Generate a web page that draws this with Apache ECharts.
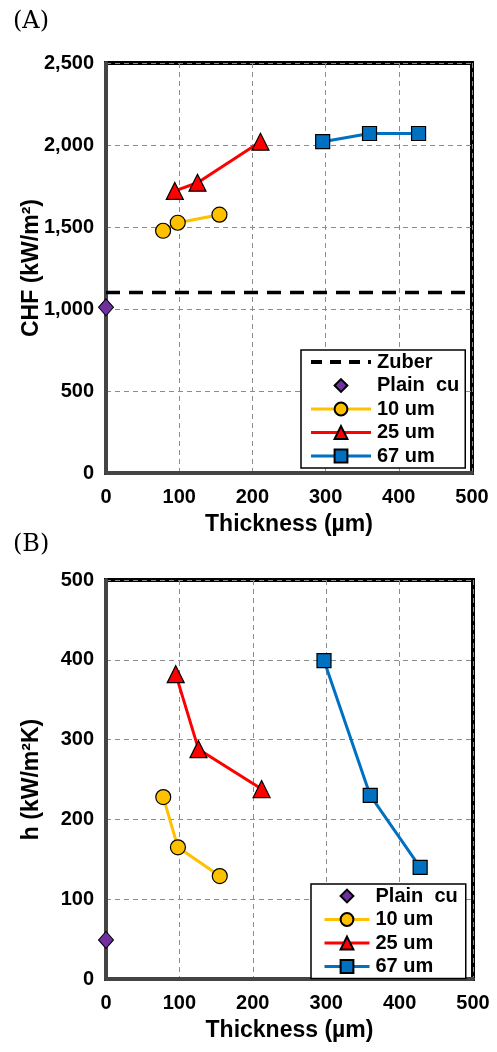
<!DOCTYPE html>
<html>
<head>
<meta charset="utf-8">
<script src="https://cdn.jsdelivr.net/npm/echarts@6/dist/echarts.min.js"></script>
<style>
html, body { margin: 0; padding: 0; background: #fff; }
#main { width: 497px; height: 1052px; }
</style>
</head>
<body>
<div id="main"></div>
<script>
// (A) CHF vs thickness
var chfPlain = [[0, 1010]];
var chf10 = [[78, 1477], [98, 1526], [155, 1575]];
var chf25 = [[94, 1720], [125, 1770], [211, 2020]];
var chf67 = [[296, 2020], [360, 2070], [427, 2070]];
var zuber = [[0, 1100], [500, 1100]];
// (B) h vs thickness
var hPlain = [[0, 49]];
var h10 = [[78, 228], [98, 165], [155, 129]];
var h25 = [[95, 382], [126, 288], [212, 238]];
var h67 = [[297, 399], [360, 230], [428, 140]];

var xTicks = [0, 100, 200, 300, 400, 500];

var FONT = 'Liberation Sans, Arial, sans-serif';

var myChart = echarts.init(document.getElementById('main'));

function xAxisCfg(idx) {
	return {
		gridIndex: idx,
		type: 'value',
		min: xTicks[0],
		max: xTicks[xTicks.length - 1],
		interval: 100,
		name: 'Thickness (µm)',
		nameLocation: 'middle',
		nameGap: 40,
		nameMoveOverlap: false,
		nameTextStyle: { fontFamily: FONT, fontWeight: 'bold', fontSize: 23, color: '#000' },
		axisLine: { onZero: false, lineStyle: { color: '#444', width: 4 } },
		axisTick: { show: false },
		axisLabel: { margin: 14, fontFamily: FONT, fontWeight: 'bold', fontSize: 20, color: '#000' },
		splitLine: { show: true, lineStyle: { color: '#8c8c8c', type: [5, 4], width: 1 } }
	};
}

function yAxisCfg(idx, name, max, interval) {
	return {
		gridIndex: idx,
		type: 'value',
		min: 0,
		max: max,
		interval: interval,
		name: name,
		nameLocation: 'middle',
		nameGap: 63,
		nameMoveOverlap: false,
		nameTextStyle: { fontFamily: FONT, fontWeight: 'bold', fontSize: 23, color: '#000' },
		axisLine: { onZero: false, lineStyle: { color: '#444', width: 4 } },
		axisTick: { show: false },
		axisLabel: {
			margin: 12, fontFamily: FONT, fontWeight: 'bold', fontSize: 20, color: '#000',
			formatter: function(v) { return v.toLocaleString('en-US'); }
		},
		splitLine: { show: true, lineStyle: { color: '#8c8c8c', type: [5, 4], width: 1 } }
	};
}

function lineSeries(name, data, color, symbol, size, idx) {
	return {
		name: name,
		type: 'line',
		xAxisIndex: idx,
		yAxisIndex: idx,
		data: data,
		symbol: symbol,
		symbolSize: size,
		clip: false,
		lineStyle: { color: color, width: 3 },
		itemStyle: { color: color, borderColor: '#000', borderWidth: 1.2 },
		z: 5
	};
}

function plainSeries(data, idx) {
	// line type so the legend keeps the diamond's shape; the line itself is hidden
	return {
		name: 'Plain  cu',
		type: 'line',
		xAxisIndex: idx,
		yAxisIndex: idx,
		data: data,
		symbol: 'diamond',
		symbolSize: [15, 17],
		clip: false,
		lineStyle: { opacity: 0, width: 0 },
		itemStyle: { color: '#7030A0', borderColor: '#000', borderWidth: 1 },
		z: 6
	};
}

var legendItems = {
	'Zuber': { name: 'Zuber', lineStyle: { width: 4, type: [11, 8] } },
	'Plain  cu': { name: 'Plain  cu', lineStyle: { opacity: 0 } },
	'10 um': { name: '10 um' },
	'25 um': { name: '25 um' },
	'67 um': { name: '67 um' }
};
var legendA = ['Zuber', 'Plain  cu', '10 um', '25 um', '67 um'];
var legendB = ['Plain  cu', '10 um', '25 um', '67 um'];

function legendCfg(names, top, left, itemWidth, padding) {
	return {
		data: names.map(function(n) { return legendItems[n]; }),
		orient: 'vertical',
		left: left,
		top: top,
		itemWidth: itemWidth,
		itemHeight: 16,
		itemGap: 3.5,
		padding: padding,
		backgroundColor: '#fff',
		borderColor: '#000',
		borderWidth: 1.5,
		lineStyle: { width: 3 },
		textStyle: { fontFamily: FONT, fontWeight: 'bold', fontSize: 20, lineHeight: 20, color: '#000', padding: [0, 0, 0, 1] },
		z: 10
	};
}

var serifTitle = { fontFamily: 'DejaVu Serif, Liberation Serif, serif', fontWeight: 'normal', fontSize: 24, color: '#000' };

var option = {
	backgroundColor: '#fff',
	animation: false,
	title: [
		{ text: '(A)', left: 13, top: 10, padding: 0, textStyle: serifTitle },
		{ text: '(B)', left: 13, top: 533, padding: 0, textStyle: serifTitle }
	],
	grid: [
		{ left: 106, top: 63, width: 366, height: 410, show: true, borderColor: '#000', borderWidth: 4, backgroundColor: '#fff' },
		{ left: 106, top: 580, width: 367, height: 399, show: true, borderColor: '#000', borderWidth: 4, backgroundColor: '#fff' }
	],
	xAxis: [xAxisCfg(0), xAxisCfg(1)],
	yAxis: [
		yAxisCfg(0, 'CHF (kW/m²)', 2500, 500),
		yAxisCfg(1, 'h (kW/m²K)', 500, 100)
	],
	legend: [
		legendCfg(legendA, 350, 301, 60, [2, 6, 2, 8]),
		legendCfg(legendB, 884, 311, 45, [2, 8, 2, 12])
	],
	series: [
		{
			name: 'Zuber',
			type: 'line',
			xAxisIndex: 0,
			yAxisIndex: 0,
			data: zuber,
			symbol: 'none',
			lineStyle: { color: '#000', width: 3.5, type: [14, 9] },
			itemStyle: { color: 'transparent', borderWidth: 0 },
			z: 4
		},
		plainSeries(chfPlain, 0),
		lineSeries('10 um', chf10, '#FFC000', 'circle', 15, 0),
		lineSeries('25 um', chf25, '#FF0000', 'triangle', 17, 0),
		lineSeries('67 um', chf67, '#0070C0', 'rect', 14, 0),
		plainSeries(hPlain, 1),
		lineSeries('10 um', h10, '#FFC000', 'circle', 15, 1),
		lineSeries('25 um', h25, '#FF0000', 'triangle', 17, 1),
		lineSeries('67 um', h67, '#0070C0', 'rect', 14, 1)
	]
};
myChart.setOption(option);
</script>
</body>
</html>
